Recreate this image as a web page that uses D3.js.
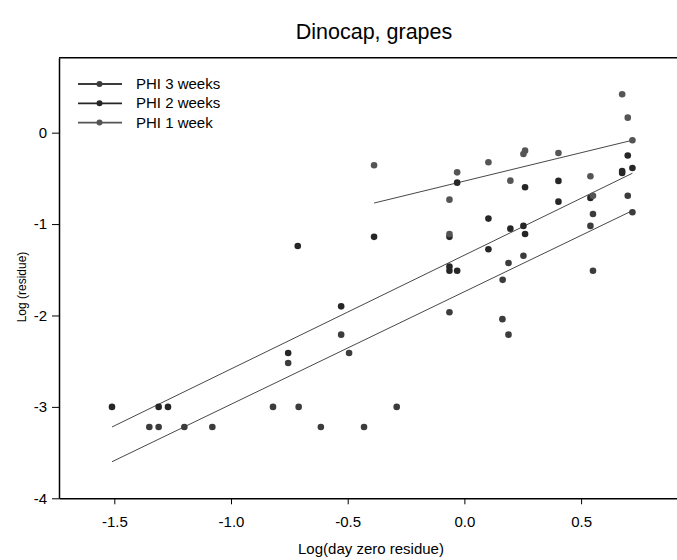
<!DOCTYPE html>
<html>
<head>
<meta charset="utf-8">
<script src="https://cdn.jsdelivr.net/npm/d3@7"></script>
<style>
  body { margin: 0; background: #fff; }
  text { font-family: "Liberation Sans", Arial, sans-serif; fill: #000; }
</style>
</head>
<body>
<div id="chart"></div>
<script>
// series names
var seriesNames = ["PHI 3 weeks", "PHI 2 weeks", "PHI 1 week"];

// PHI 3 weeks: [log day zero residue, log residue]
var phi3 = [
  [-1.35, -3.22], [-1.31, -3.22], [-1.20, -3.22], [-1.08, -3.22],
  [-0.82, -3.0], [-0.71, -3.0], [-0.615, -3.22], [-0.43, -3.22], [-0.29, -3.0],
  [-0.755, -2.52], [-0.528, -2.21], [-0.494, -2.41],
  [-0.064, -1.965], [0.163, -2.04], [0.189, -2.21],
  [0.189, -1.426], [0.164, -1.61], [0.253, -1.346],
  [0.551, -0.89], [0.540, -1.02], [0.551, -1.51],
  [0.700, -0.69], [0.720, -0.87]
];

// PHI 2 weeks
var phi2 = [
  [-1.51, -3.0], [-1.31, -3.0], [-1.27, -3.0],
  [-0.755, -2.41], [-0.528, -1.90], [-0.714, -1.24], [-0.387, -1.14],
  [-0.064, -1.14], [-0.064, -1.466], [-0.064, -1.51], [-0.031, -1.51],
  [-0.031, -0.547], [0.103, -0.94], [0.103, -1.276],
  [0.197, -1.05], [0.253, -1.02], [0.260, -1.108], [0.260, -0.598],
  [0.403, -0.528], [0.403, -0.755], [0.540, -0.714],
  [0.676, -0.42], [0.676, -0.44], [0.700, -0.25], [0.720, -0.386]
];

// PHI 1 week
var phi1 = [
  [-0.387, -0.357], [-0.064, -0.733], [-0.064, -1.11], [-0.031, -0.434],
  [0.103, -0.324], [0.197, -0.525], [0.253, -0.233], [0.260, -0.197],
  [0.403, -0.222], [0.540, -0.477], [0.551, -0.69],
  [0.676, 0.42], [0.700, 0.164], [0.720, -0.083]
];

// fitted lines: [x start, y start, x end, y end]
var fit3 = [-1.51, -3.60, 0.72, -0.853];
var fit2 = [-1.51, -3.22, 0.72, -0.444];
var fit1 = [-0.387, -0.77, 0.72, -0.083];

var xTicks = [-1.5, -1.0, -0.5, 0.0, 0.5];
var yTicks = [0, -1, -2, -3, -4];

var colors = ["#3c3c3c", "#262626", "#555555"];

var width = 677, height = 560;
var svg = d3.select("#chart").append("svg")
    .attr("width", width)
    .attr("height", height);

var x = d3.scaleLinear().domain([-1.737, 0.911]).range([59, 677]);
var y = d3.scaleLinear().domain([-4, 0.82]).range([498.3, 57.7]);

// title
svg.append("text")
    .attr("x", 374).attr("y", 39)
    .attr("text-anchor", "middle")
    .style("font-size", "21.5px")
    .text("Dinocap, grapes");

// x axis
var xAxis = svg.append("g")
    .attr("transform", "translate(0," + y(-4) + ")")
    .call(d3.axisBottom(x).tickValues(xTicks).tickFormat(d3.format(".1f"))
        .tickSize(6).tickPadding(12).tickSizeOuter(0));
xAxis.select(".domain").attr("stroke-width", 1.5);
xAxis.selectAll("text").style("font-size", "15px")
    .text(d => d3.format(".1f")(d).replace("−", "-"));

// y axis
var yAxis = svg.append("g")
    .attr("transform", "translate(" + x.range()[0] + ",0)")
    .call(d3.axisLeft(y).tickValues(yTicks).tickFormat(d => String(d).replace("−", "-"))
        .tickSize(7).tickPadding(5).tickSizeOuter(0));
yAxis.select(".domain").attr("stroke-width", 1.5);
yAxis.selectAll("text").style("font-size", "15px");

// top frame line
svg.append("line")
    .attr("x1", x.range()[0]).attr("x2", x.range()[1])
    .attr("y1", y.range()[1]).attr("y2", y.range()[1])
    .attr("stroke", "#000").attr("stroke-width", 1.5);

// axis titles
svg.append("text")
    .attr("x", 371).attr("y", 554)
    .attr("text-anchor", "middle")
    .style("font-size", "15px")
    .text("Log(day zero residue)");

svg.append("text")
    .attr("transform", "translate(26,287) rotate(-90)")
    .attr("text-anchor", "middle")
    .style("font-size", "12px")
    .text("Log (residue)");

// fitted lines
[fit3, fit2, fit1].forEach(function(f, i) {
    svg.append("line")
        .attr("x1", x(f[0])).attr("y1", y(f[1]))
        .attr("x2", x(f[2])).attr("y2", y(f[3]))
        .attr("stroke", "#333")
        .attr("stroke-width", 0.9);
});

// points
[phi3, phi2, phi1].forEach(function(data, i) {
    svg.append("g").selectAll("circle")
        .data(data)
        .enter()
        .append("circle")
        .attr("cx", d => x(d[0]))
        .attr("cy", d => y(d[1]))
        .attr("r", 3.3)
        .attr("fill", colors[i]);
});

// legend
var legend = svg.append("g").attr("transform", "translate(78,84)");
seriesNames.forEach(function(name, i) {
    var row = legend.append("g").attr("transform", "translate(0," + (i * 19.3) + ")");
    row.append("line")
        .attr("x1", 0).attr("x2", 44)
        .attr("stroke", colors[i]).attr("stroke-width", 1.8);
    row.append("circle")
        .attr("cx", 21.5).attr("r", 3)
        .attr("fill", colors[i]);
    row.append("text")
        .attr("x", 58).attr("y", 5)
        .style("font-size", "15px")
        .text(name);
});
</script>
</body>
</html>
